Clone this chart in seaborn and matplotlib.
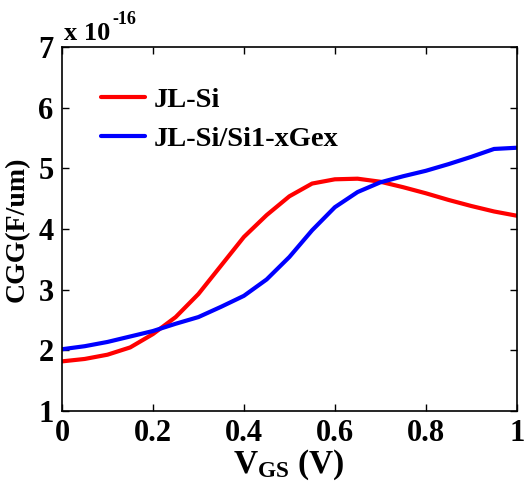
import matplotlib
matplotlib.use("Agg")
import matplotlib.pyplot as plt
import seaborn as sns
import pandas as pd

vgs = [0.0, 0.05, 0.1, 0.15, 0.2, 0.25, 0.3, 0.35, 0.4, 0.45, 0.5,
       0.55, 0.6, 0.65, 0.7, 0.75, 0.8, 0.85, 0.9, 0.95, 1.0]
cgg_si = [1.82, 1.86, 1.93, 2.05, 2.27, 2.55, 2.93, 3.40, 3.87, 4.23, 4.54,
          4.75, 4.82, 4.83, 4.78, 4.69, 4.59, 4.48, 4.38, 4.29, 4.22]
cgg_sige = [2.02, 2.07, 2.14, 2.23, 2.32, 2.44, 2.55, 2.72, 2.90, 3.17, 3.54,
            3.98, 4.36, 4.61, 4.77, 4.87, 4.96, 5.07, 5.19, 5.32, 5.34]
series_names = ["JL-Si", "JL-Si/Si1-xGex"]
xticks = [0, 0.2, 0.4, 0.6, 0.8, 1.0]
xticklabels = ["0", "0.2", "0.4", "0.6", "0.8", "1"]
yticks = [1, 2, 3, 4, 5, 6, 7]

df = pd.DataFrame({
    "VGS": vgs * 2,
    "CGG": cgg_si + cgg_sige,
    "series": [series_names[0]] * len(vgs) + [series_names[1]] * len(vgs),
})

sns.set_style("white")
plt.rcParams["font.family"] = ["Liberation Serif", "DejaVu Serif"]
plt.rcParams["font.weight"] = "bold"
plt.rcParams["text.color"] = "black"
plt.rcParams["axes.labelcolor"] = "black"
plt.rcParams["xtick.color"] = "black"
plt.rcParams["ytick.color"] = "black"
plt.rcParams["mathtext.fontset"] = "custom"
plt.rcParams["mathtext.rm"] = "Liberation Serif:bold"
plt.rcParams["mathtext.bf"] = "Liberation Serif:bold"
plt.rcParams["mathtext.it"] = "Liberation Serif:bold"

fig = plt.figure(figsize=(5.27, 4.82), dpi=100)
ax = fig.add_axes([0.1176, 0.147, 0.863, 0.7555])

sns.lineplot(data=df, x="VGS", y="CGG", hue="series", hue_order=series_names,
             palette=["#ff0000", "#0000ff"], linewidth=3, ax=ax)

ax.set_xlim(0, 1)
ax.set_ylim(1, 7)
ax.set_xticks(xticks)
ax.set_xticklabels(xticklabels)
ax.set_yticks(yticks)
ax.tick_params(direction="in", length=5, width=1.0, top=True, right=True,
               bottom=True, left=True, labelsize=22, pad=6, colors="black")
for lab in ax.get_xticklabels() + ax.get_yticklabels():
    lab.set_fontweight("bold")
for s in ax.spines.values():
    s.set_color("black")
    s.set_linewidth(1.2)

ax.set_xlabel("")
ax.set_ylabel("CGG(F/um)", fontsize=20, fontweight="bold", labelpad=6)
fig.text(0.548, 0.072, r"V$_{\mathrm{GS}}$ (V)", fontsize=24, fontweight="bold",
         ha="center", va="top")
fig.text(0.122, 0.906, "x 10", fontsize=19, fontweight="bold",
         ha="left", va="bottom")
fig.text(0.213, 0.942, "-16", fontsize=13, fontweight="bold",
         ha="left", va="bottom")

leg = ax.legend(loc="upper left", bbox_to_anchor=(0.06, 0.92), frameon=False,
                fontsize=20.5, handlelength=1.55, handletextpad=0.3,
                labelspacing=0.45, borderaxespad=0)
for t in leg.get_texts():
    t.set_fontweight("bold")
for l in leg.get_lines():
    l.set_linewidth(3)

fig.savefig("out.png", dpi=100)
